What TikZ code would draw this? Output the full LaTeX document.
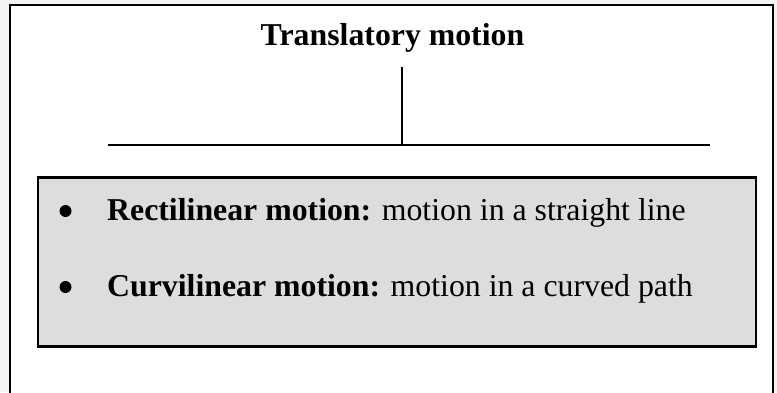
\documentclass[tikz,border=0pt]{standalone}
\usepackage{fontspec}
\setmainfont{Liberation Serif}
\usetikzlibrary{positioning}
\definecolor{pagegray}{HTML}{F5F5F5}
\definecolor{boxgray}{HTML}{DDDDDD}

\begin{document}
\begin{tikzpicture}[x=1pt, y=-1pt,
  heading/.style={font=\fontsize{31.8}{38}\selectfont\bfseries, inner sep=0pt, anchor=base},
  listbox/.style={draw, line width=2.2pt, fill=boxgray, minimum width=718.5pt, minimum height=169pt, inner sep=0pt},
  item/.style={font=\fontsize{31.8}{38}\selectfont, inner sep=0pt, anchor=base west},
  dot/.style={circle, fill=black, minimum size=12pt, inner sep=0pt},
  bar/.style={line width=2pt},
  stem/.style={line width=1.8pt, shorten <=14.8pt}
]
\fill[pagegray] (0,0) rectangle (777,392);
\useasboundingbox (0,0) rectangle (777,392);
\clip (0,0) rectangle (777,392);
% outer frame, open at the bottom
\filldraw[fill=white, line width=2pt] (10,400) -- (10,5) -- (772.5,5) -- (772.5,400);

\node[heading] (title) at (392.5,45) {Translatory motion};
\coordinate (barL) at (108,144.5);
\coordinate (barR) at (710,144.5);
\coordinate (barM) at (402,144.5);
\draw[bar] (barL) -- (barR);
\draw[stem] (title.south -| barM) -- (barM);

\node[listbox] (kinds) at (396.9,261.9) {};
\node[dot] (dotA) at (65.5,211) {};
\node[item] (rect) at (107,220.5) {\textbf{Rectilinear motion:} motion in a straight line};
\node[dot] (dotB) at (65.5,287) {};
\node[item] (curv) at (107,296.5) {\textbf{Curvilinear motion:} motion in a curved path};

\end{tikzpicture}
\end{document}
